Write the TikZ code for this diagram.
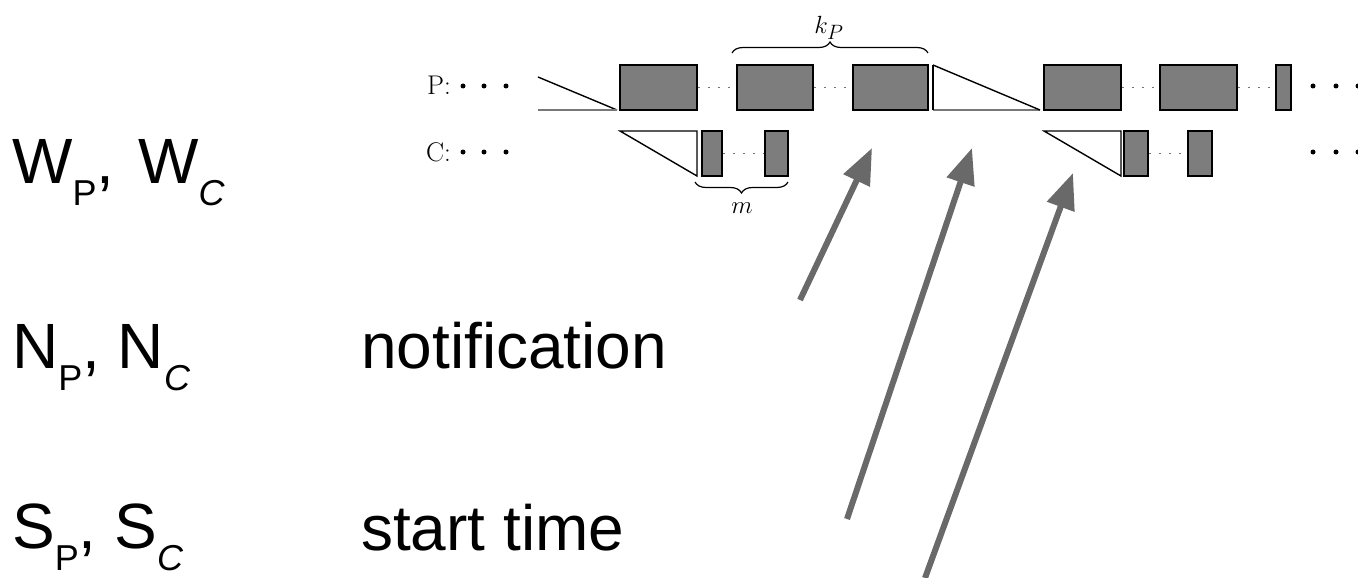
\documentclass[tikz,border=0pt]{standalone}
\usepackage{fontspec}
\newfontfamily\hand{Liberation Sans}
\usetikzlibrary{arrows.meta,decorations.pathreplacing}
\definecolor{boxgray}{RGB}{125,125,125}
\definecolor{basegray}{RGB}{120,120,120}
\definecolor{ptrgray}{RGB}{105,105,105}
\newcommand\lowsub[1]{\raisebox{-22pt}{\fontsize{36}{36}\selectfont #1}}
\tikzset{
  blk/.style={draw=black, fill=boxgray, line width=1.4pt, inner sep=0pt, minimum height=45pt},
  tri/.style={draw=black, fill=white, line width=1.4pt, line join=miter},
  slope/.style={draw=black, line width=1.4pt},
  baseln/.style={draw=basegray, line width=2.6pt},
  gap/.style={draw=black!55, line width=1.8pt, dash pattern=on 1.8pt off 8.2pt},
  dot/.style={circle, fill=black, inner sep=0pt, minimum size=5pt},
  rowlbl/.style={inner sep=0pt, anchor=base east, font=\fontsize{27}{29}\selectfont},
  brlbl/.style={inner sep=0pt, font=\fontsize{28}{30}\selectfont},
  hbrace/.style={draw=black, line width=1.2pt, decorate, decoration={brace, amplitude=11pt}},
  bigtxt/.style={inner sep=0pt, anchor=base west, font=\hand\fontsize{64}{70}\selectfont},
  ptr/.style={draw=ptrgray, line width=6pt, -{Triangle[length=36pt,width=28pt]}}
}
\begin{document}
\begin{tikzpicture}[x=1pt,y=-1pt]
\useasboundingbox (0,0) rectangle (1358,578);

% row labels and leading dots
\node[rowlbl] (plbl) at (451,95) {P:};
\node[rowlbl] (clbl) at (451,161) {C:};
\foreach \x/\n in {463/a,484/b,506/c}{
  \node[dot] (pl\n) at (\x,86) {};
  \node[dot] (cl\n) at (\x,152) {};
}

% producer row
\draw[slope] (538,77) -- (617,110);
\draw[baseln] (538,110) -- (617,110);
\node[blk, minimum width=77pt] (p1) at (658.5,87.5) {};
\node[blk, minimum width=76pt] (p2) at (775,87.5) {};
\node[blk, minimum width=75pt] (p3) at (890.5,87.5) {};
\draw[baseln] (933,110) -- (1040,110);
\draw[slope] (933,65) -- (933,110);
\draw[slope] (933,65) -- (1040,110);
\node[blk, minimum width=77pt] (p4) at (1082.5,87.5) {};
\node[blk, minimum width=77pt] (p5) at (1198.5,87.5) {};
\node[blk, minimum width=15pt] (p6) at (1283.5,87.5) {};
\draw[gap] (p1.east) -- (p2.west);
\draw[gap] (p2.east) -- (p3.west);
\draw[gap] (p4.east) -- (p5.west);
\draw[gap] (p5.east) -- (p6.west);
\foreach \x/\n in {1313/a,1336/b,1358/c}{
  \node[dot] (pr\n) at (\x,86) {};
  \node[dot] (cr\n) at (\x,152) {};
}

% consumer row
\draw[tri] (620,131) -- (697,131) -- (697,176) -- cycle;
\node[blk, minimum width=20pt] (c1) at (712,153.5) {};
\node[blk, minimum width=23pt] (c2) at (776.5,153.5) {};
\draw[tri] (1044,131) -- (1121,131) -- (1121,176) -- cycle;
\node[blk, minimum width=24pt] (c3) at (1136,153.5) {};
\node[blk, minimum width=24pt] (c4) at (1200,153.5) {};
\draw[gap] (c1.east) -- (c2.west);
\draw[gap] (c3.east) -- (c4.west);

% braces
\draw[hbrace] (732,53) -- (928,53);
\node[brlbl] (kp) at (829,28) {$k_P$};
\draw[hbrace] (788,182) -- (695,182);
\node[brlbl] (mm) at (742,208) {$m$};

% left-hand labels
\node[bigtxt] (wlbl) at (12,183) {W\lowsub{P}, \kern6pt W\lowsub{\itshape C}};
\node[bigtxt] (nlbl) at (12,368) {N\lowsub{P}, N\lowsub{\itshape C}};
\node[bigtxt] (slbl) at (12,548) {S\lowsub{P}, S\lowsub{\itshape C}};
\node[bigtxt] (notif) at (361,368) {notification};
\node[bigtxt] (start) at (361,550) {start time};

% pointers
\coordinate (a1s) at (800,300);
\coordinate (a1e) at (872,148);
\coordinate (a2s) at (847,519);
\coordinate (a2e) at (972,148);
\coordinate (a3s) at (925,578);
\coordinate (a3e) at (1073,173);
\draw[ptr] (a1s) -- (a1e);
\draw[ptr] (a2s) -- (a2e);
\draw[ptr] (a3s) -- (a3e);
\end{tikzpicture}
\end{document}
